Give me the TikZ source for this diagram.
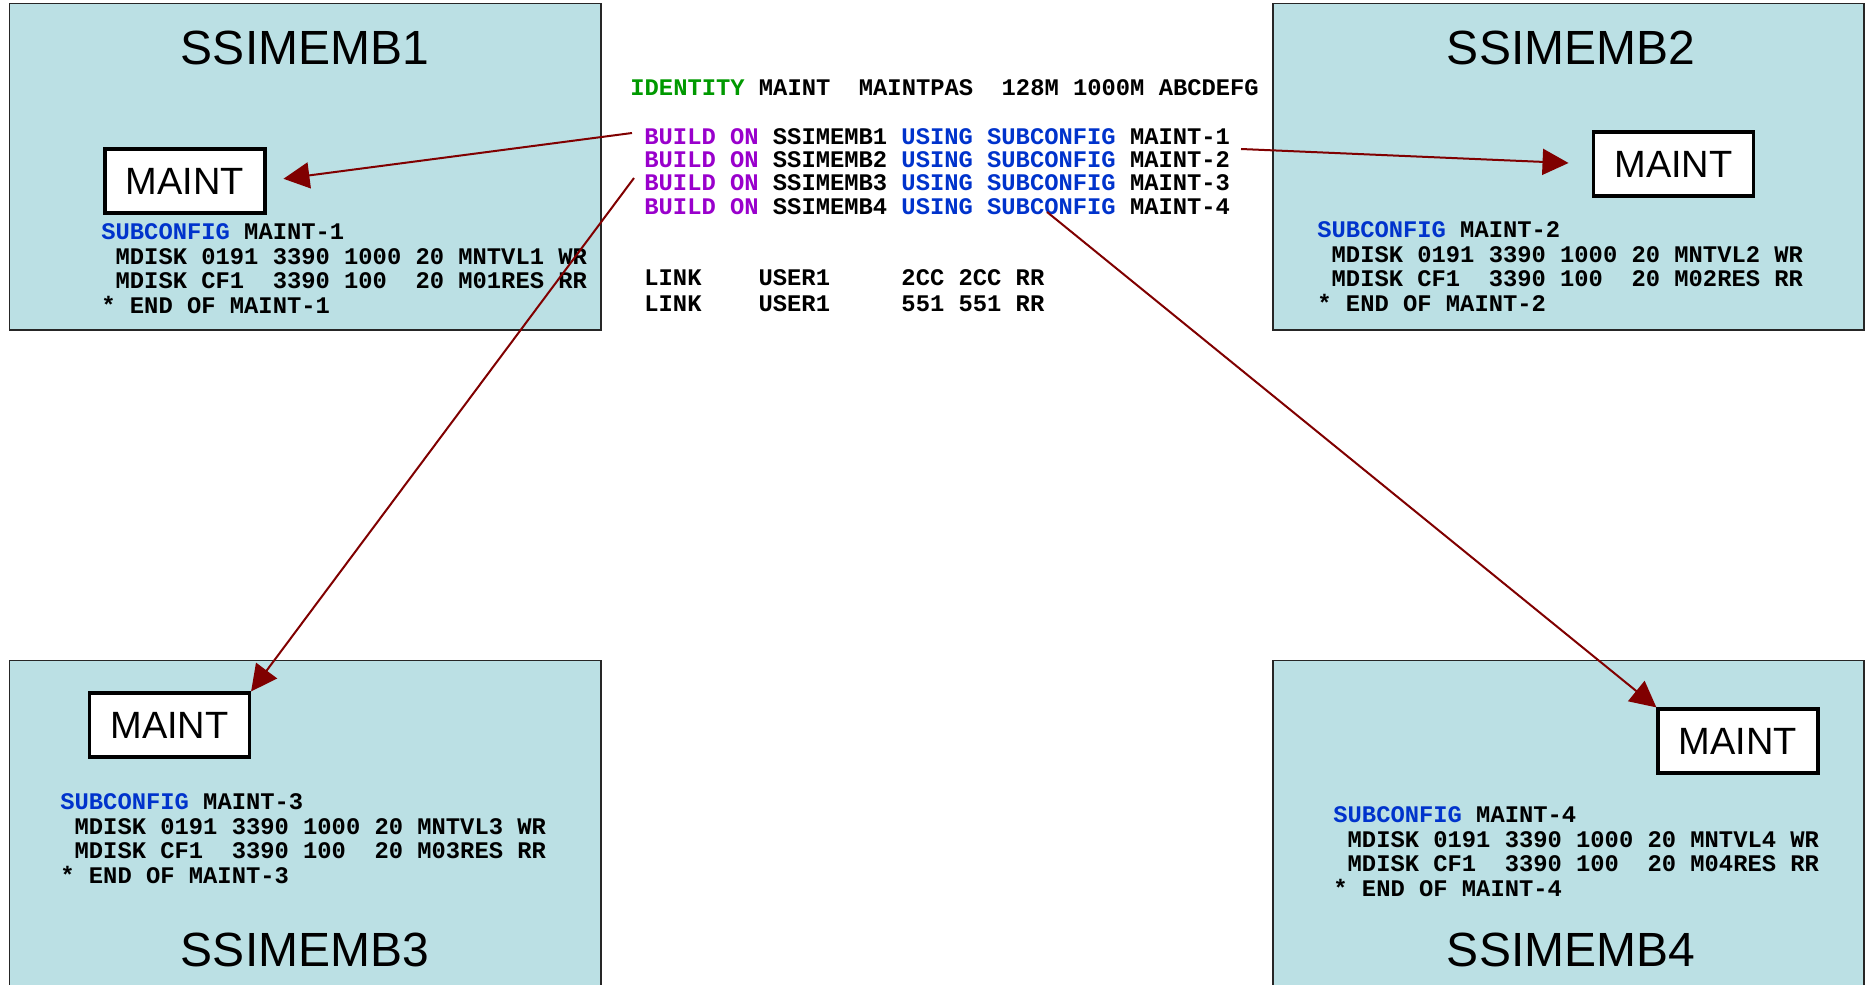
\documentclass[tikz,border=0pt]{standalone}
\usepackage{fontspec}
\setmainfont{Liberation Sans}
\newfontfamily\codefont[WordSpace={1,0,0}]{Liberation Mono}
\usetikzlibrary{arrows.meta}

\definecolor{memberfill}{RGB}{187,224,228}
\definecolor{linkred}{RGB}{128,0,0}
\definecolor{kwgreen}{RGB}{0,153,0}
\definecolor{kwpurple}{RGB}{153,0,204}
\definecolor{kwblue}{RGB}{0,51,204}

\newcommand{\kwg}[1]{\textcolor{kwgreen}{#1}}
\newcommand{\kwp}[1]{\textcolor{kwpurple}{#1}}
\newcommand{\kwb}[1]{\textcolor{kwblue}{#1}}
\newcommand{\lsp}{\mbox{}\ }

\tikzset{
		member/.style={draw=black!85, line width=0.7pt, fill=memberfill},
		title/.style={font=\fontsize{24}{28}\selectfont},
		userbox/.style={draw, line width=1.6pt, fill=white, minimum width=80pt, minimum height=32pt, inner sep=0pt, font=\fontsize{19}{22}\selectfont},
		code/.style={anchor=base west, inner sep=0pt, align=left, font=\codefont\bfseries\fontsize{11.9}{12.2}\selectfont},
		link/.style={draw=linkred, line width=1pt, -{Triangle[length=13pt,width=13pt]}}
	}

\begin{document}
\begin{tikzpicture}[x=0.5pt, y=-0.5pt]
	\useasboundingbox (0,0) rectangle (1866,984);
	% member systems
	\draw[member] (9.5,3.6) rectangle (601,330);
	\draw[member] (1273,3.6) rectangle (1864,330);
	\draw[member] (9.5,660.5) rectangle (601,990);
	\draw[member] (1273,660.5) rectangle (1864,990);
	\node[title] (t1) at (305,48) {SSIMEMB1};
	\node[title] (t2) at (1571,48) {SSIMEMB2};
	\node[title] (t3) at (305,950) {SSIMEMB3};
	\node[title] (t4) at (1571,950) {SSIMEMB4};
	% user on each member
	\node[userbox] (m1) at (185,181) {MAINT};
	\node[userbox] (m2) at (1673.5,164) {MAINT};
	\node[userbox] (m3) at (169.5,725) {MAINT};
	\node[userbox] (m4) at (1738,741) {MAINT};
	% directory entry (multi-line nodes sit on their last line)
	\node[code] (ident) at (630,96) {\kwg{IDENTITY} MAINT\ \ MAINTPAS\ \ 128M 1000M ABCDEFG};
	\node[code] (build1) at (644,145) {\kwp{BUILD ON} SSIMEMB1 \kwb{USING SUBCONFIG} MAINT-1};
	\node[code] (build2) at (644,168) {\kwp{BUILD ON} SSIMEMB2 \kwb{USING SUBCONFIG} MAINT-2};
	\node[code] (build3) at (644,191) {\kwp{BUILD ON} SSIMEMB3 \kwb{USING SUBCONFIG} MAINT-3};
	\node[code] (build4) at (644,214) {\kwp{BUILD ON} SSIMEMB4 \kwb{USING SUBCONFIG} MAINT-4};
	\node[code, font=\codefont\bfseries\fontsize{11.9}{13}\selectfont] (links) at (644,311)
		{LINK\ \ \ \ USER1\ \ \ \ \ 2CC 2CC RR\\LINK\ \ \ \ USER1\ \ \ \ \ 551 551 RR};
	% subconfig entries
	\node[code] (sub1) at (101,313) {\kwb{SUBCONFIG} MAINT-1\\\lsp MDISK 0191 3390 1000 20 MNTVL1 WR\\\lsp MDISK CF1\ \ 3390 100\ \ 20 M01RES RR\\{*} END OF MAINT-1};
	\node[code] (sub2) at (1317,311) {\kwb{SUBCONFIG} MAINT-2\\\lsp MDISK 0191 3390 1000 20 MNTVL2 WR\\\lsp MDISK CF1\ \ 3390 100\ \ 20 M02RES RR\\{*} END OF MAINT-2};
	\node[code] (sub3) at (60,883) {\kwb{SUBCONFIG} MAINT-3\\\lsp MDISK 0191 3390 1000 20 MNTVL3 WR\\\lsp MDISK CF1\ \ 3390 100\ \ 20 M03RES RR\\{*} END OF MAINT-3};
	\node[code] (sub4) at (1333,896) {\kwb{SUBCONFIG} MAINT-4\\\lsp MDISK 0191 3390 1000 20 MNTVL4 WR\\\lsp MDISK CF1\ \ 3390 100\ \ 20 M04RES RR\\{*} END OF MAINT-4};
	% arrows
	\coordinate (from1) at (632,133);
	\coordinate (from2) at (1241,149);
	\coordinate (from3) at (634,178);
	\coordinate (from4) at (1047,212);
	\draw[link, shorten >=8.5pt] (from1) -- (m1.east);
	\draw[link, shorten >=11.7pt] (from2) -- (m2.west);
	\draw[link] (from3) -- (m3.north east);
	\draw[link] (from4) -- (m4.north west);
\end{tikzpicture}
\end{document}
